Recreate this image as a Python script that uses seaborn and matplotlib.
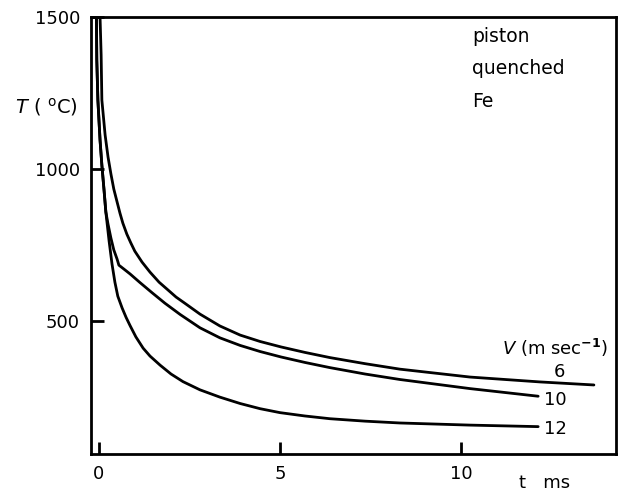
import numpy as np
import pandas as pd
import matplotlib
matplotlib.use("Agg")
import matplotlib.pyplot as plt
import seaborn as sns

# cooling curves: time (ms) and temperature (deg C)
t_v6 = [0.03, 0.06, 0.08, 0.17, 0.25, 0.33, 0.41, 0.50, 0.58, 0.66, 0.77, 0.88,
        0.99, 1.19, 1.41, 1.66, 1.91, 2.13, 2.38, 2.79, 3.34, 3.90, 4.45, 5.03,
        5.69, 6.38, 7.35, 8.31, 10.25, 12.18, 13.67]
T_v6 = [1500, 1375, 1227, 1112, 1040, 984, 934, 892, 855, 822, 786, 757,
        730, 694, 661, 628, 602, 579, 558, 523, 484, 454, 433, 415,
        397, 380, 360, 342, 316, 300, 290]

t_v10 = [-0.07, -0.06, -0.03, 0.03, 0.08, 0.14, 0.19, 0.25, 0.33, 0.41, 0.50, 0.55,
         0.69, 0.86, 1.13, 1.46, 1.82, 2.24, 2.79, 3.34, 3.90, 4.45, 5.03, 5.69,
         6.38, 7.35, 8.31, 10.25, 12.13]
T_v10 = [1500, 1359, 1227, 1095, 1013, 931, 859, 819, 773, 734, 704, 684,
         671, 655, 627, 594, 559, 522, 478, 445, 420, 400, 382, 364,
         347, 326, 308, 278, 253]

t_v12 = [-0.07, -0.06, -0.03, 0.03, 0.08, 0.14, 0.19, 0.28, 0.36, 0.44, 0.52, 0.64,
         0.75, 0.86, 1.02, 1.22, 1.41, 1.69, 1.99, 2.32, 2.79, 3.34, 3.90, 4.45,
         5.00, 5.69, 6.38, 7.35, 8.31, 10.25, 12.13]
T_v12 = [1500, 1359, 1227, 1095, 1013, 931, 859, 763, 688, 628, 582, 543,
         512, 485, 448, 411, 385, 355, 326, 301, 274, 250, 229, 212,
         199, 188, 179, 171, 165, 158, 153]

speeds = ["6", "10", "12"]
x_ticks = [0, 5, 10]
y_ticks = [500, 1000, 1500]

frames = []
for v, t, T in zip(speeds, [t_v6, t_v10, t_v12], [T_v6, T_v10, T_v12]):
    frames.append(pd.DataFrame({"t": t, "T": T, "V": v}))
df = pd.concat(frames, ignore_index=True)

sns.set_theme(style="ticks")
plt.rcParams["font.family"] = ["DejaVu Sans"]
plt.rcParams["text.color"] = "black"

fig = plt.figure(figsize=(6.22, 4.94), dpi=100)
ax = fig.add_axes([91 / 622, 1 - 454 / 494, 525 / 622, 437 / 494])

sns.lineplot(data=df, x="t", y="T", hue="V", palette=["black"] * 3,
             estimator=None, sort=False, linewidth=2.0, legend=False, ax=ax)

ax.set_xlim(-0.22, 14.28)
ax.set_ylim(63, 1500)
ax.set_xticks(x_ticks)
ax.set_yticks(y_ticks)
ax.set_xlabel("")
ax.set_ylabel("")
ax.tick_params(direction="in", length=9, width=2, labelsize=13, colors="black", pad=8)
for s in ax.spines.values():
    s.set_linewidth(2)
    s.set_color("black")

# curve labels
ax.text(12.73, 332, "6", fontsize=13, ha="center", va="center")
ax.text(12.6, 240, "10", fontsize=13, ha="center", va="center")
ax.text(12.6, 145, "12", fontsize=13, ha="center", va="center")
ax.text(12.6, 411, r"$V$ (m sec$^{\mathbf{-1}}$)", fontsize=13, ha="center", va="center")

ax.text(0.726, 0.978, "piston\nquenched\nFe", transform=ax.transAxes, fontsize=13.5,
        ha="left", va="top", linespacing=1.9)

fig.text(15 / 622, 1 - 107 / 494, r"$T$ ( $^{\mathrm{o}}$C)", fontsize=14, ha="left", va="center")
fig.text(545 / 622, 1 - 483 / 494, "t   ms", fontsize=13, ha="center", va="center")

fig.savefig("out.png", dpi=100)
